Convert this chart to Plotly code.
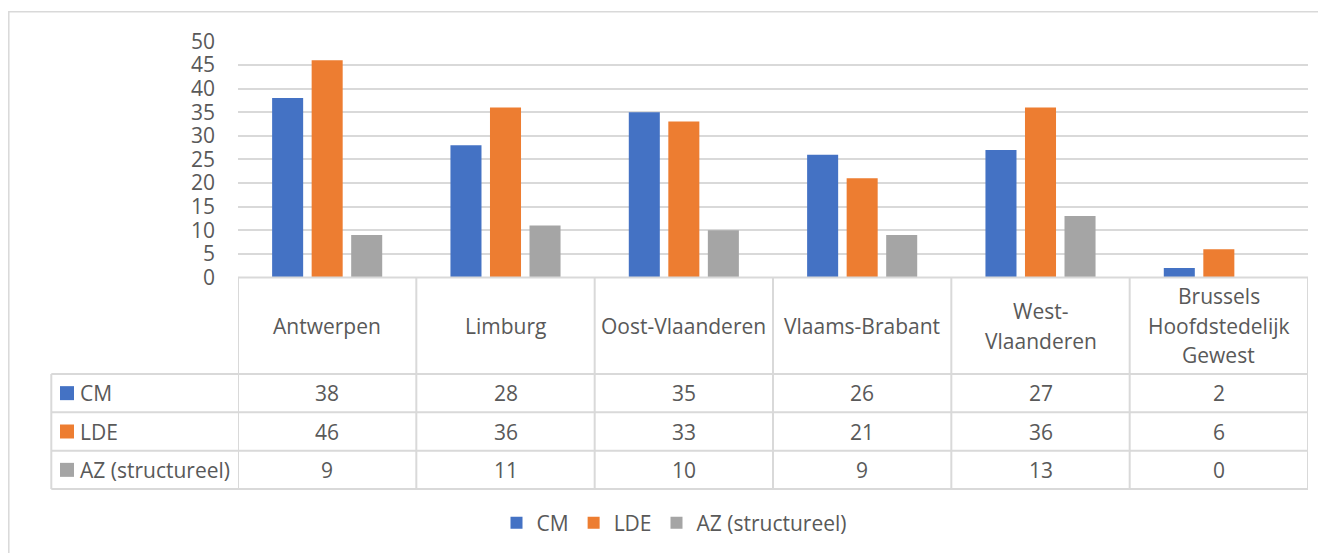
import plotly.graph_objects as go

# ---- data ----
categories = ["Antwerpen", "Limburg", "Oost-Vlaanderen", "Vlaams-Brabant",
              "West-<br>Vlaanderen", "Brussels<br>Hoofdstedelijk<br>Gewest"]
series_names = ["CM", "LDE", "AZ (structureel)"]
cm_values = [38, 28, 35, 26, 27, 2]
lde_values = [46, 36, 33, 21, 36, 6]
az_values = [9, 11, 10, 9, 13, 0]
y_ticks = [0, 5, 10, 15, 20, 25, 30, 35, 40, 45, 50]

colors = ["#4472C4", "#ED7D31", "#A5A5A5"]
all_values = [cm_values, lde_values, az_values]

# page body has an 8px margin; size the figure so it fills the 1326x553 window
OX, OY = 8, 8
W, H = 1326 - OX, 553 - OY
TXT = "#595959"
LINE = "#D9D9D9"
FONT = "Open Sans"
FS = 21


def py(px):
    return 1 - (px - OY) / H


def pxx(px):
    return (px - OX) / W


x_idx = list(range(len(categories)))

fig = go.Figure()
for name, vals, col in zip(series_names, all_values, colors):
    fig.add_trace(go.Bar(x=x_idx, y=vals, name=name, marker_color=col,
                         marker_line_width=0))

plot_left, plot_right = 238, 1308
plot_top, plot_bottom = 41.3, 277.5
row_lines = [374, 412.3, 450.7, 489]
label_left = 51.3

shapes = []
# outer chart border
shapes.append(dict(type="rect", xref="paper", yref="paper",
                   x0=pxx(8.8), x1=pxx(1345), y0=py(575), y1=py(11.7),
                   line=dict(color=LINE, width=1.5), layer="below"))
# table top (axis) line
shapes.append(dict(type="line", xref="paper", yref="paper",
                   x0=pxx(plot_left), x1=pxx(plot_right),
                   y0=py(plot_bottom), y1=py(plot_bottom),
                   line=dict(color=LINE, width=2)))
# row lines
for ry in row_lines:
    shapes.append(dict(type="line", xref="paper", yref="paper",
                       x0=pxx(label_left), x1=pxx(plot_right), y0=py(ry), y1=py(ry),
                       line=dict(color=LINE, width=2)))
# column lines
for i in range(len(categories) + 1):
    shapes.append(dict(type="line", xref="x", yref="paper",
                       x0=i - 0.5, x1=i - 0.5, y0=py(plot_bottom), y1=py(row_lines[-1]),
                       line=dict(color=LINE, width=2)))
shapes.append(dict(type="line", xref="paper", yref="paper",
                   x0=pxx(label_left), x1=pxx(label_left),
                   y0=py(row_lines[0]), y1=py(row_lines[-1]),
                   line=dict(color=LINE, width=2)))

annotations = []
header_mid = (plot_bottom + row_lines[0]) / 2
LH = 29.5
for i, c in enumerate(categories):
    lines = c.split("<br>")
    n = len(lines)
    for k, ln in enumerate(lines):
        yc = header_mid + (k - (n - 1) / 2) * LH
        annotations.append(dict(x=i, y=py(yc), xref="x", yref="paper",
                                text=ln, showarrow=False, xanchor="center",
                                yanchor="middle",
                                font=dict(family=FONT, size=FS, color=TXT)))
for r, (name, vals, col) in enumerate(zip(series_names, all_values, colors)):
    mid = (row_lines[r] + row_lines[r + 1]) / 2
    shapes.append(dict(type="rect", xref="paper", yref="paper",
                       x0=pxx(60), x1=pxx(74), y0=py(mid + 7), y1=py(mid - 7),
                       fillcolor=col, line=dict(width=0)))
    annotations.append(dict(x=pxx(78), y=py(mid), xref="paper", yref="paper",
                            text=name, showarrow=False, xanchor="left", yanchor="middle",
                            font=dict(family=FONT, size=FS, color=TXT)))
    for i, v in enumerate(vals):
        annotations.append(dict(x=i, y=py(mid), xref="x", yref="paper",
                                text=str(v), showarrow=False, xanchor="center",
                                yanchor="middle",
                                font=dict(family=FONT, size=FS, color=TXT)))

fig.update_layout(
    width=W, height=H, autosize=False,
    margin=dict(l=0, r=0, t=0, b=0, pad=0, autoexpand=False),
    paper_bgcolor="white", plot_bgcolor="white",
    font=dict(family=FONT, size=FS, color=TXT),
    barmode="group", bargap=0.335, bargroupgap=0.215,
    xaxis=dict(domain=[pxx(plot_left), pxx(plot_right)], range=[-0.5, 5.5],
               showticklabels=False, showgrid=False, zeroline=False, showline=False,
               automargin=False, fixedrange=True),
    yaxis=dict(domain=[py(plot_bottom), py(plot_top)], range=[0, 50],
               tickvals=y_ticks, ticktext=[str(t) for t in y_ticks],
               showgrid=True, gridcolor=LINE, gridwidth=1.5, zeroline=False,
               showline=False, ticks="", ticklabelstandoff=22, automargin=False,
               tickfont=dict(family=FONT, size=FS, color=TXT), fixedrange=True),
    legend=dict(orientation="h", x=pxx(674), xanchor="center", y=py(523),
                yanchor="middle", font=dict(family=FONT, size=FS, color=TXT),
                itemwidth=30, bgcolor="rgba(0,0,0,0)"),
    shapes=shapes,
    annotations=annotations,
)

fig.write_html("out.html")
